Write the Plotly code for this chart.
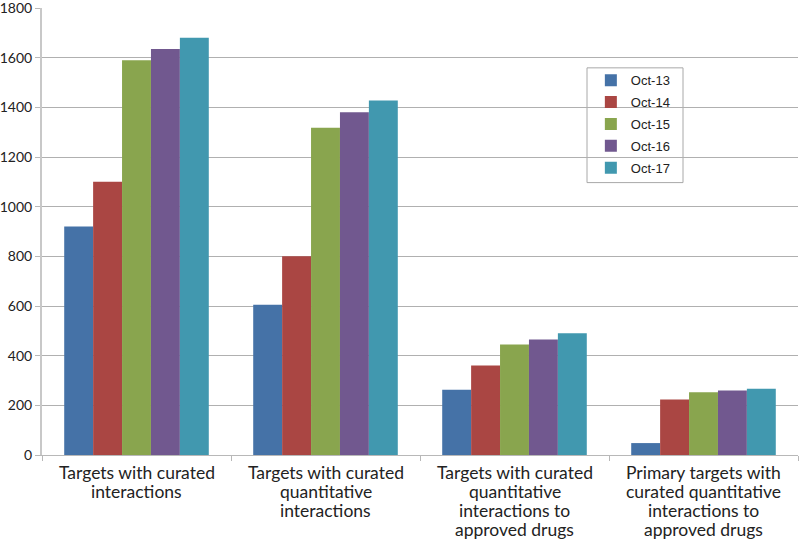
import plotly.graph_objects as go

categories = [
    "Targets with curated<br>interactions",
    "Targets with curated<br>quantitative<br>interactions",
    "Targets with curated<br>quantitative<br>interactions to<br>approved drugs",
    "Primary targets with<br>curated quantitative<br>interactions to<br>approved drugs",
]
series_names = ["Oct-13", "Oct-14", "Oct-15", "Oct-16", "Oct-17"]
oct13 = [920, 605, 263, 48]
oct14 = [1100, 800, 360, 223]
oct15 = [1590, 1318, 445, 253]
oct16 = [1635, 1380, 465, 260]
oct17 = [1680, 1428, 490, 267]
series_values = [oct13, oct14, oct15, oct16, oct17]
colors = ["#4572A7", "#AA4643", "#89A54E", "#71588F", "#4198AF"]
y_ticks = [0, 200, 400, 600, 800, 1000, 1200, 1400, 1600, 1800]

fig = go.Figure()
for name, vals, c in zip(series_names, series_values, colors):
    fig.add_trace(go.Bar(
        name=name, x=categories, y=vals, legendgroup=name,
        marker=dict(color=c, line=dict(width=0)),
    ))

# category labels as multi-line text under each category
for cat in categories:
    for i, line in enumerate(cat.split("<br>")):
        fig.add_annotation(
            x=cat, xref="x", y=0, yref="paper",
            text=line, showarrow=False,
            xanchor="center", yanchor="middle",
            yshift=-17 - 19.3 * i,
            font=dict(family="Lato", size=17.5, color="#222"),
        )

# legend frame
fig.add_shape(
    type="rect", xref="paper", yref="paper",
    x0=0.7209, x1=0.8479, y0=0.6094, y1=0.8661,
    line=dict(color="#a8a8a8", width=1), fillcolor="white", layer="below",
)

fig.update_layout(
    width=800, height=541,
    margin=dict(l=42, r=2, t=8, b=86),
    barmode="group", bargap=0.235, bargroupgap=0,
    plot_bgcolor="white", paper_bgcolor="white",
    font=dict(family="Lato", size=14, color="#222"),
    legend=dict(
        x=0.726, y=0.872, xanchor="left", yanchor="top",
        bgcolor="rgba(0,0,0,0)", borderwidth=0,
        font=dict(family="Liberation Sans", size=13, color="#222"),
        itemwidth=30, tracegroupgap=2,
    ),
    showlegend=True,
)
fig.update_xaxes(
    showline=True, linecolor="#b8b8b8", linewidth=1,
    ticks="outside", tickson="boundaries", ticklen=5, tickcolor="#b8b8b8",
    showticklabels=False, automargin=False,
    showgrid=False,
)
fig.update_yaxes(
    range=[0, 1800], tickvals=y_ticks,
    showline=True, linecolor="#c8c8c8", linewidth=2,
    ticks="outside", ticklen=5, tickcolor="#b8b8b8",
    showgrid=True, gridcolor="#b0b0b0", gridwidth=1,
    tickfont=dict(family="Lato", size=14, color="#222"),
    zeroline=False, automargin=False, ticklabeloverflow="allow",
)

fig.write_html(
    "out.html",
    config={"displayModeBar": False},
    post_script="document.body.style.margin='0';",
)
